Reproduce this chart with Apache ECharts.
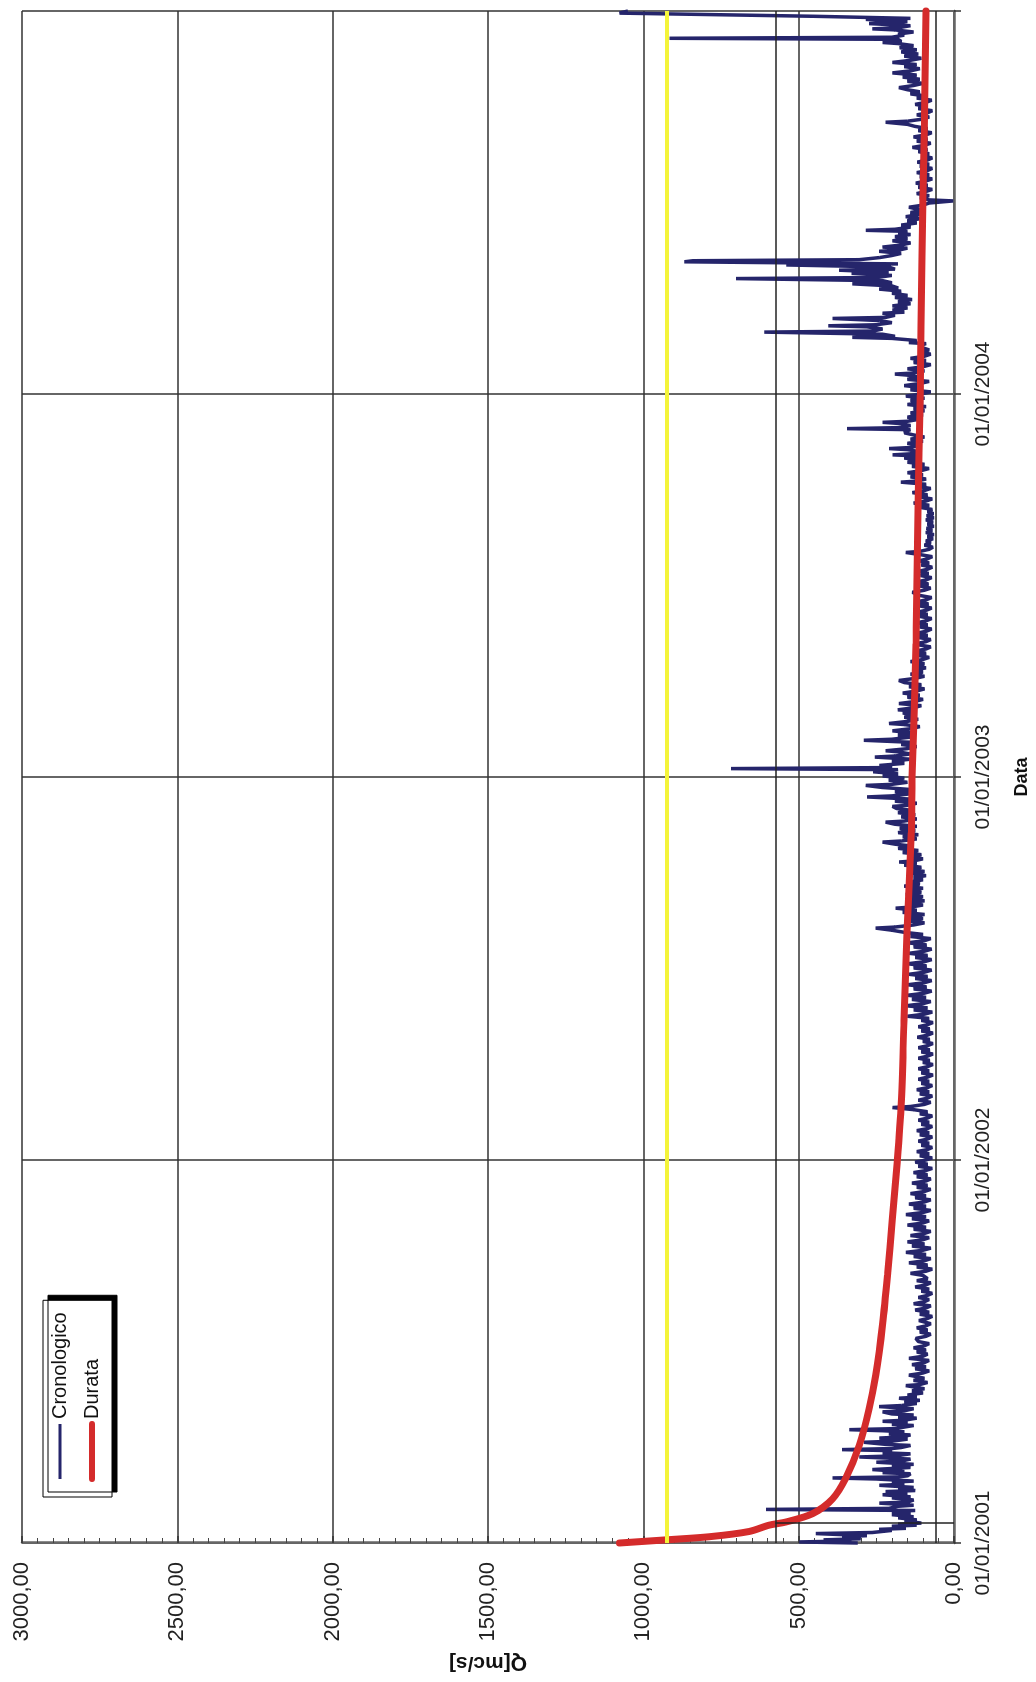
<!DOCTYPE html>
<html><head><meta charset="utf-8">
<script src="https://cdn.jsdelivr.net/npm/echarts@6/dist/echarts.min.js"></script>
<style>
html,body{margin:0;padding:0;background:#fff;width:1036px;height:1682px;overflow:hidden;}
#chart{position:absolute;left:0;top:0;width:1682px;height:1036px;transform-origin:0 0;transform:translate(0,1682px) rotate(-90deg);background:#fff;}
</style></head><body><div id="chart"></div>
<script>
// Day index counted from 01/01/2001
const dateLabels = ['01/01/2001','01/01/2002','01/01/2003','01/01/2004'];
const qLabels = ['0,00','500,00','1000,00','1500,00','2000,00','2500,00','3000,00'];
const seriesNames = ['Cronologico','Durata'];
const thresholdQ = 926;
const auxQLines = [575, 59];
const auxDay = 19;

const cronologico = [
[0,310],[1,498],[2,330],[3,420],[4,300],[6,360],[7,280],[9,445],[10,263],[12,200],[13,241],[14,155],[16,200],[17,120],[18,180],[19,105],[21,160],[22,120],[24,180],[25,130],[27,200],[28,140],[30,200],[31,125],[32,605],[33,210],[35,180],[36,130],[38,240],[39,150],
[41,130],[43,200],[44,140],[46,230],[47,150],[49,220],[50,125],[52,180],[53,130],[55,240],[56,160],[58,200],[59,130],[61,250],[62,391],[63,180],[64,150],[66,140],[67,230],[68,160],[70,263],[71,200],[72,140],[74,200],[75,130],[77,250],[78,170],[80,140],[81,220],[82,305],[83,190],[85,140],[86,230],[88,200],[89,360],[90,200],[91,170],[93,140],[94,220],[96,290],[97,200],[99,150],[100,240],[101,170],[103,140],[104,210],[106,160],[107,230],[108,337],[109,190],[110,170],[112,130],[113,200],[115,150],[116,230],[117,160],[119,120],[120,180],[122,130],[123,200],[125,230],[126,160],[128,130],[130,241],[131,170],[133,120],[134,160],[136,110],[138,177],[139,120],
[141,150],[143,100],[145,135],[147,95],[150,155],[151,110],[153,85],[155,130],[157,95],[160,145],[162,100],[164,80],[166,125],[168,90],[170,135],[172,95],[174,80],[176,145],[178,100],[180,85],[182,120],[184,90],[186,130],[188,95],[190,80],[192,115],[195,123],[197,90],[199,75],[201,110],[203,85],[205,120],[207,90],[209,75],[212,113],[214,85],[216,70],[218,110],[220,80],[222,125],[224,90],[226,75],[228,130],[230,95],[232,80],[234,115],[236,85],[238,70],[240,105],[242,80],[244,125],[246,90],[248,75],[250,120],[252,85],[255,100],
[257,140],[259,90],[261,70],[263,120],[265,85],[267,145],[269,95],[271,75],[273,130],[275,90],[277,155],[279,100],[281,75],[283,135],[285,95],[287,150],[289,100],[291,80],[293,140],[295,95],[297,75],[299,130],[301,90],[303,150],[305,100],[307,80],[309,135],[311,90],[313,155],[315,100],[317,75],[319,130],[321,90],[323,145],[325,95],[327,75],[329,125],[331,90],[333,140],[335,95],[337,75],[339,120],[341,85],[343,135],[345,90],[347,75],[349,120],[351,85],[353,130],[355,90],[357,70],[359,115],[361,85],[363,125],[365,90],[367,70],[369,110],[371,80],[373,120],[375,85],[377,70],[379,105],[381,80],[383,115],[385,85],[387,70],[389,110],[391,80],[393,120],[395,85],[397,70],[399,105],[401,80],[403,115],[405,85],[407,70],[409,110],[411,85],[413,130],[415,198],[416,140],[418,95],[420,75],[422,115],[424,85],[426,70],[428,110],[430,80],[432,120],[434,85],[436,70],[438,105],[440,80],[442,115],[444,85],[446,68],[448,105],[450,80],[452,115],[454,85],[456,68],[458,100],[460,78],[462,115],[464,85],[466,68],[468,105],[470,78],[472,115],[474,85],[476,68],[478,100],[480,78],[482,118],[484,85],[486,68],[488,105],[490,78],[492,115],[494,85],[496,68],[498,105],
[500,80],[502,150],[504,95],[506,70],[508,130],[510,85],[512,155],[514,100],[516,75],[518,135],[520,90],[522,150],[524,95],[526,72],[528,130],[530,88],[532,150],[534,95],[536,72],[538,125],[540,85],[542,145],[544,95],[546,72],[548,130],[550,88],[552,150],[554,95],[556,72],[558,125],[560,85],[562,145],[564,95],[566,72],[568,130],[570,88],[572,150],[574,95],[576,75],[578,140],[580,100],
[582,160],[584,200],[586,252],[587,190],[589,130],[591,95],[593,150],[595,100],[597,140],[599,95],[601,165],[603,120],[605,188],[606,140],[608,100],[610,150],[612,95],[614,140],[616,100],[618,155],[620,105],[622,140],[624,100],[626,160],[628,110],[630,145],[632,100],[634,130],[636,90],[638,140],[640,95],[642,150],[644,105],[646,160],[648,120],[649,177],[650,130],[652,100],[654,150],[656,105],[658,165],[660,115],[662,180],[664,130],[666,190],[668,230],[669,170],[671,120],[673,165],[675,115],[677,180],[679,125],[681,175],[683,120],[685,190],[687,220],[688,160],[690,120],[692,170],[694,125],[696,180],[698,130],[700,185],[702,198],[703,150],[705,120],[707,190],[709,140],[711,280],[712,200],[714,140],[716,190],[718,135],[720,230],[722,284],[723,200],[725,150],[727,210],[729,160],[731,230],[733,180],[735,260],[737,180],[738,718],[739,200],[741,240],
[743,160],[745,200],[747,140],[749,255],[750,190],[752,140],[754,180],[755,220],[757,150],[759,120],[761,170],[763,130],[765,290],[766,200],[768,140],[770,180],[772,130],[774,198],[776,140],[778,110],[780,160],[781,209],[783,150],[785,115],[787,160],[789,120],[791,165],[793,125],[794,181],[796,130],[798,105],[800,177],[802,125],[804,100],[806,150],[808,110],[810,165],[812,120],[814,95],[816,145],[818,105],[820,160],[822,177],[824,125],[826,95],[828,140],[830,100],[832,130],[834,90],[836,125],[838,95],[840,140],[842,100],[844,80],[846,120],[848,90],[850,125],[852,90],[854,75],[856,115],[857,123],[859,90],[861,75],[863,115],[865,85],[867,120],[869,88],[871,72],[873,110],[875,85],[877,118],[879,88],[881,72],[883,110],[885,85],[887,120],[889,88],[891,72],[893,110],[895,82],[897,118],[899,88],[901,72],[903,110],[906,134],[908,95],[910,75],[912,110],[914,82],[916,118],[918,88],[920,72],[922,108],[924,82],[926,115],[928,85],[930,70],[932,105],[934,80],[936,112],[938,85],[940,70],[942,110],[944,155],[945,110],[947,80],[949,68],[951,95],[953,75],[955,90],[957,68],[959,85],[961,65],[963,90],[965,70],[967,88],[969,65],[971,85],[973,68],[975,90],[977,65],[979,88],[981,66],[983,85],
[985,70],[987,110],[989,80],[991,130],[993,90],[995,70],[997,115],[999,85],[1001,134],[1003,95],[1005,75],[1007,120],[1009,90],[1011,171],[1012,120],[1014,90],[1016,140],[1018,100],[1020,150],[1022,105],[1024,80],[1026,135],[1028,95],[1030,150],[1032,105],[1034,160],[1036,120],[1037,198],[1038,140],[1040,110],[1042,150],[1043,209],[1044,140],[1046,110],[1048,150],[1050,100],[1052,140],[1054,95],[1056,130],[1058,160],[1060,150],[1061,140],[1062,344],[1063,170],[1065,140],[1067,180],[1068,230],[1069,150],[1071,110],[1073,150],[1075,100],[1077,140],[1079,95],[1081,130],[1083,90],[1085,150],[1087,100],[1089,140],[1091,95],[1093,155],[1095,105],[1097,75],[1099,140],[1101,100],[1103,160],[1105,110],[1107,80],[1109,150],[1111,110],[1113,150],[1114,190],[1115,130],[1117,95],[1119,150],[1121,100],[1123,75],[1125,130],[1127,90],[1129,140],[1131,95],[1133,75],[1135,110],[1137,80],[1139,100],[1141,113],[1143,90],[1144,145],[1146,120],[1148,200],[1149,327],[1150,190],[1152,230],[1154,611],[1155,260],[1157,230],[1159,280],[1160,405],[1161,250],[1163,200],[1165,240],[1167,391],[1168,220],[1170,190],[1172,230],[1173,160],[1175,198],[1177,150],[1179,198],[1181,140],[1183,180],[1185,135],[1187,190],[1189,150],[1191,200],[1193,170],[1195,241],[1196,180],[1198,200],[1200,327],[1201,200],[1203,230],[1205,702],[1206,250],[1208,200],[1210,330],[1211,210],[1213,370],[1214,190],[1216,210],[1218,540],[1219,180],[1221,868],[1222,840],[1223,305],[1225,240],
[1227,200],[1229,170],[1231,241],[1232,180],[1234,150],[1235,230],[1237,170],[1239,140],[1241,198],[1243,150],[1245,190],[1247,140],[1248,180],[1250,150],[1251,284],[1252,190],[1254,140],[1256,170],[1258,120],[1260,150],[1262,110],[1264,155],[1266,110],[1268,140],[1270,100],[1272,130],[1273,145],[1275,100],[1277,80],[1279,3],[1280,80],[1282,110],[1284,80],[1286,120],[1288,90],[1290,70],[1292,115],[1294,85],[1296,123],[1298,90],[1300,70],[1302,110],[1304,80],[1306,120],[1308,85],[1310,70],[1312,110],[1314,80],[1316,118],[1318,85],[1320,70],[1322,105],[1324,80],[1326,115],[1328,85],[1330,134],[1332,95],[1334,75],[1336,120],[1338,85],[1340,130],[1342,90],[1344,72],[1346,115],[1348,85],[1350,125],[1352,150],[1354,220],[1355,150],[1357,100],[1359,80],[1361,120],[1363,85],[1365,70],[1367,115],[1369,85],[1371,125],[1373,90],[1375,72],[1377,120],[1379,90],[1381,140],[1383,110],[1385,150],[1387,177],[1389,130],[1391,100],[1393,150],[1395,110],[1397,165],[1399,120],[1401,198],[1403,140],[1405,110],[1407,160],[1409,120],[1411,198],[1413,140],[1415,105],[1417,160],[1419,115],[1421,170],[1423,120],[1425,175],[1427,130],[1429,180],[1430,230],[1431,170],[1433,180],[1434,916],[1435,200],[1437,160],[1438,180],[1440,130],[1442,190],[1443,263],[1444,180],[1446,140],[1448,273],[1449,180],[1450,150],[1452,284],[1453,140],[1455,455],[1458,1077],[1460,1050]
];

const durata = [
[0,1077],[3,927],[6,787],[11,659],[17,595],[20,541],[28,455],[42,391],[62,348],[93,305],[128,273],[160,252],[208,230],[255,214],[308,199],[363,183],[419,170],[498,161],[582,151],[677,138],[729,135],[857,122],[984,116],[1094,109],[1227,103],[1343,96],[1460,90]
];

const navy = '#25256b';
const red = '#d42b2b';
const font = '"Liberation Sans", Arial, sans-serif';

const chart = echarts.init(document.getElementById('chart'), null, {width:1682, height:1036, renderer:'canvas'});
chart.setOption({
  animation:false,
  backgroundColor:'#ffffff',
  grid:{left:139, right:11, top:22, bottom:81, containLabel:false},
  legend:{
    data:[
      {name:seriesNames[0], itemStyle:{opacity:0}, lineStyle:{color:navy, width:3, opacity:1}},
      {name:seriesNames[1], itemStyle:{opacity:0}, lineStyle:{color:red, width:6, cap:'round', opacity:1}}
    ],
    orient:'vertical', left:185, top:43,
    padding:[7,12,10,15], itemGap:12, itemWidth:55, itemHeight:14,
    backgroundColor:'#ffffff', borderColor:'#000', borderWidth:1,
    shadowColor:'#000', shadowBlur:0, shadowOffsetX:5, shadowOffsetY:5,
    textStyle:{fontFamily:font, fontSize:20, color:'#111'}
  },
  xAxis:{
    type:'value', min:0, max:1460, interval:365, position:'bottom',
    name:'Data', nameLocation:'middle', nameGap:59,
    nameTextStyle:{fontFamily:font, fontSize:18, fontWeight:'bold', color:'#111'},
    axisLine:{show:true, onZero:false, lineStyle:{color:'#666', width:2.5}},
    axisTick:{show:true, inside:false, length:7, lineStyle:{color:'#333', width:1.5}},
    axisLabel:{margin:19, fontFamily:font, fontSize:21, color:'#222',
      formatter:function(v){ const i = Math.round(v/365); return (v % 365 === 0 && i < dateLabels.length) ? dateLabels[i] : ''; }},
    splitLine:{show:true, lineStyle:{color:'#333', width:1.5}}
  },
  yAxis:{
    type:'value', min:0, max:3000, interval:500, position:'left',
    name:'Q[mc/s]', nameLocation:'middle', nameGap:108,
    nameTextStyle:{fontFamily:font, fontSize:21, fontWeight:'bold', color:'#111'},
    axisLine:{show:true, onZero:false, lineStyle:{color:'#666', width:2.5}},
    axisTick:{show:true, inside:true, length:7, lineStyle:{color:'#333', width:1.5}},
    minorTick:{show:true, splitNumber:10, length:5, lineStyle:{color:'#444', width:1}},
    axisLabel:{margin:19, fontFamily:font, fontSize:22, color:'#222',
      formatter:function(v){ return qLabels[Math.round(v/500)]; }},
    splitLine:{show:true, lineStyle:{color:'#333', width:1.5}}
  },
  series:[
    {
      name:seriesNames[0], type:'line', data:cronologico, symbol:'none', showSymbol:false,
      lineStyle:{color:navy, width:3.5}, itemStyle:{color:navy}, z:2,
      markLine:{
        silent:true, symbol:['none','none'], label:{show:false}, animation:false,
        lineStyle:{color:'#222', width:1.5, type:'solid'},
        data:[
          {yAxis:auxQLines[0]},
          {yAxis:auxQLines[1]},
          [{coord:[auxDay, auxQLines[0]]},{coord:[auxDay, 0]}]
        ]
      }
    },
    {
      name:seriesNames[1], type:'line', data:durata, symbol:'none', showSymbol:false,
      smooth:0.3, lineStyle:{color:red, width:7, cap:'round'}, itemStyle:{color:red}, z:3,
      markLine:{
        silent:true, symbol:['none','none'], label:{show:false}, animation:false, z:10,
        lineStyle:{color:'#f4f43a', width:4, type:'solid'},
        data:[{yAxis:thresholdQ}]
      }
    }
  ]
});
</script>
</body></html>
